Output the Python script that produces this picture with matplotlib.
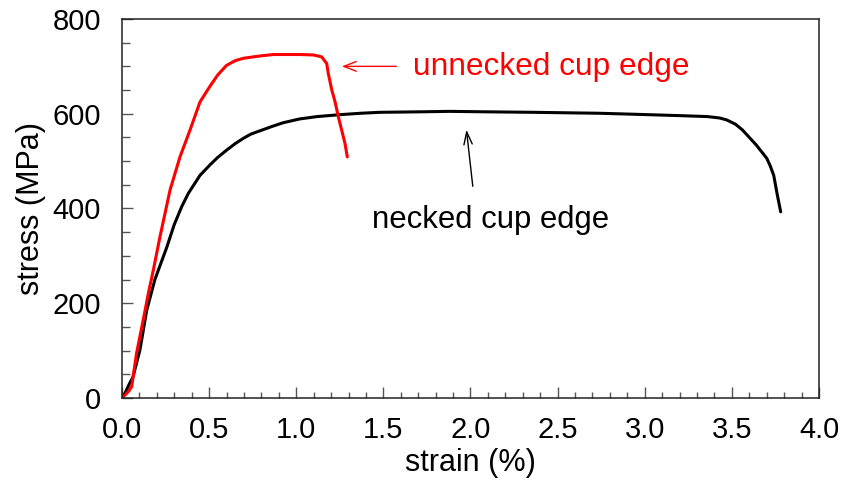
import matplotlib
matplotlib.use("Agg")
import matplotlib.pyplot as plt
from matplotlib.ticker import MultipleLocator, FormatStrFormatter

plt.rcParams['font.family'] = ['Liberation Sans', 'DejaVu Sans']

# Necked cup edge specimen
necked_strain = [0.0, 0.02, 0.04, 0.063, 0.103, 0.142, 0.189, 0.257, 0.30, 0.343,
                 0.381, 0.448, 0.505, 0.55, 0.60, 0.65, 0.696, 0.74, 0.792, 0.86,
                 0.925, 1.02, 1.12, 1.25, 1.37, 1.48, 1.70, 1.88, 2.10, 2.36,
                 2.74, 2.93, 3.20, 3.36, 3.43, 3.47, 3.52, 3.56, 3.60, 3.64,
                 3.70, 3.72, 3.74, 3.75, 3.76, 3.78]
necked_stress = [0, 12, 28, 44, 101, 185, 250, 318, 366, 404,
                 432, 470, 492, 508, 523, 537, 548, 557, 564, 573,
                 581, 589, 594, 598, 601, 603, 604, 605, 604, 603,
                 601, 599, 596, 594, 591, 587, 578, 566, 550, 534,
                 506, 490, 470, 450, 430, 393]

# Unnecked cup edge specimen
unnecked_strain = [0.0, 0.017, 0.04, 0.056, 0.084, 0.12, 0.151, 0.18, 0.218, 0.276,
                   0.333, 0.39, 0.448, 0.505, 0.55, 0.60, 0.65, 0.696, 0.792, 0.87,
                   1.021, 1.10, 1.146, 1.175, 1.184, 1.204, 1.223, 1.242, 1.261, 1.28,
                   1.293]
unnecked_stress = [0, 6, 15, 24, 95, 161, 220, 270, 340, 439,
                   509, 565, 625, 658, 682, 702, 712, 717, 722, 725,
                   725, 724, 720, 706, 685, 650, 625, 593, 565, 537,
                   509]

fig = plt.figure(figsize=(8.44, 4.83), dpi=100)
ax = fig.add_axes([0.1445, 0.176, 0.8259, 0.7847])

ax.plot(necked_strain, necked_stress, color='black', lw=2.2,
        solid_joinstyle='round', solid_capstyle='round')
ax.plot(unnecked_strain, unnecked_stress, color='#ff0000', lw=2.2,
        solid_joinstyle='round', solid_capstyle='round')

ax.set_xlim(0, 4.0)
ax.set_ylim(0, 800)
ax.xaxis.set_major_locator(MultipleLocator(0.5))
ax.xaxis.set_minor_locator(MultipleLocator(0.1))
ax.yaxis.set_major_locator(MultipleLocator(200))
ax.yaxis.set_minor_locator(MultipleLocator(50))
ax.xaxis.set_major_formatter(FormatStrFormatter('%.1f'))

ax.tick_params(axis='both', which='both', direction='in', top=False, right=False,
               color='#555555', width=1.0, labelsize=21)
ax.tick_params(axis='x', which='major', length=8, pad=13)
ax.tick_params(axis='x', which='minor', length=4)
ax.tick_params(axis='y', which='major', length=8, pad=15)
ax.tick_params(axis='y', which='minor', length=5.5)

for sp in ax.spines.values():
    sp.set_linewidth(1.1)
    sp.set_color('#222222')

ax.set_xlabel('strain (%)', fontsize=22, labelpad=3)
ax.set_ylabel('stress (MPa)', fontsize=22, labelpad=5)

ax.annotate('', xy=(1.246, 700), xytext=(1.59, 700),
            arrowprops=dict(arrowstyle='->,head_length=0.9,head_width=0.35',
                            color='#ff0000', lw=1.0))
ax.text(1.67, 681, 'unnecked cup edge', color='#ff0000', fontsize=22.8,
        ha='left', va='baseline')

ax.annotate('', xy=(1.975, 572), xytext=(2.015, 441),
            arrowprops=dict(arrowstyle='->,head_length=0.9,head_width=0.3',
                            color='black', lw=1.0))
ax.text(1.433, 359, 'necked cup edge', color='black', fontsize=22.4,
        ha='left', va='baseline')

fig.savefig('out.png', dpi=100)
